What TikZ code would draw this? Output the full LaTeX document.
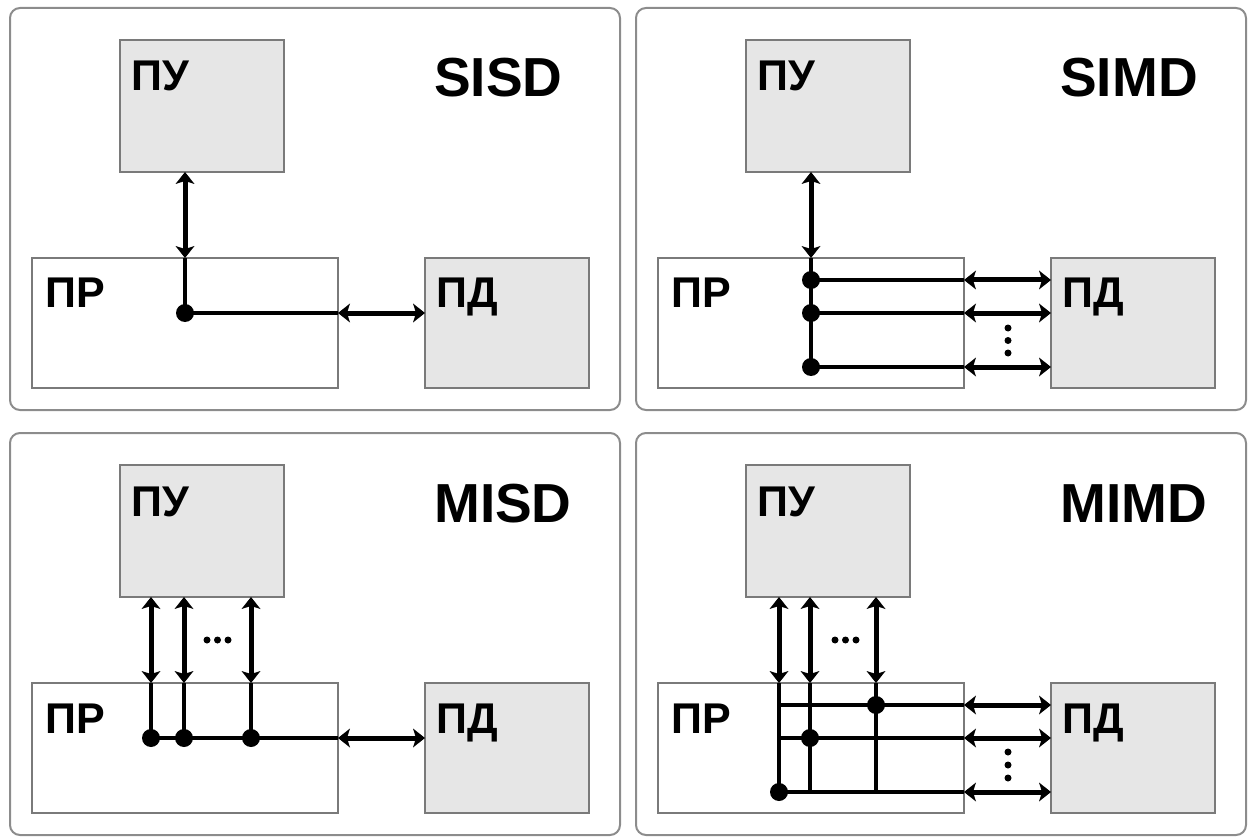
\documentclass[tikz,border=0pt]{standalone}
\usepackage{fontspec}
\setmainfont{Liberation Sans}
\usetikzlibrary{arrows.meta}
\definecolor{panelgray}{HTML}{8C8C8C}
\definecolor{boxgray}{HTML}{7A7A7A}
\definecolor{boxfill}{HTML}{E6E6E6}
\newcommand\flynnpanel[2]{%
  \draw[panel] (10,8) rectangle (620,410);
  \node[unit, minimum width=164pt, minimum height=132pt] (#1pu) at (120,40) {};
  \node[unit, minimum width=306pt, minimum height=130pt, fill=white] (#1pr) at (32,258) {};
  \node[unit, minimum width=164pt, minimum height=130pt] (#1pd) at (425,258) {};
  \node[lbl] (#1put) at (131,91) {ПУ};
  \node[lbl] (#1prt) at (45,308) {ПР};
  \node[lbl] (#1pdt) at (436,308) {ПД};
  \node[ttl] (#1ttl) at (434,97) {#2};
}
\begin{document}
\begin{tikzpicture}[x=1pt,y=-1pt,
  panel/.style={draw=panelgray, line width=2pt, rounded corners=10pt},
  unit/.style={draw=boxgray, line width=1.8pt, fill=boxfill, anchor=north west, inner sep=0pt, outer sep=0pt},
  lbl/.style={anchor=base west, inner sep=0pt, font=\bfseries\fontsize{43}{43}\selectfont},
  ttl/.style={anchor=base west, inner sep=0pt, font=\bfseries\fontsize{55}{55}\selectfont},
  tip/.tip={Stealth[length=12pt,width=19pt,inset=3pt,line width=0pt]},
  arr/.style={line width=3.5pt, tip-tip,
    preaction={draw, -, line width=5pt, shorten <=6pt, shorten >=6pt}},
  ln/.style={line width=3.5pt},
  dot/.style={circle, fill=black, inner sep=0pt, minimum size=18pt},
  sdot/.style={circle, fill=black, inner sep=0pt, minimum size=7pt}]
\useasboundingbox (0,0) rectangle (1251,837);
% ---------------- SISD
\begin{scope}
  \flynnpanel{a}{SISD}
  \coordinate (a1) at (185,313);
  \draw[arr] (a1 |- apu.south) -- (a1 |- apr.north);
  \draw[ln] (a1 |- apr.north) -- (a1);
  \draw[ln] (a1) -- (a1 -| apr.east);
  \draw[arr] (a1 -| apr.east) -- (a1 -| apd.west);
  \node[dot] (a1d) at (a1) {};
\end{scope}
% ---------------- SIMD
\begin{scope}[shift={(626,0)}]
  \flynnpanel{b}{SIMD}
  \coordinate (b1) at (185,280);
  \coordinate (b2) at (185,313);
  \coordinate (b3) at (185,367);
  \draw[arr] (b1 |- bpu.south) -- (b1 |- bpr.north);
  \draw[ln] (b1 |- bpr.north) -- (b3);
  \foreach \i in {1,2,3}{
    \draw[ln] (b\i) -- (b\i -| bpr.east);
    \draw[arr] (b\i -| bpr.east) -- (b\i -| bpd.west);
    \node[dot] (b\i d) at (b\i) {};
  }
  \node[sdot] (bv1) at (382,328) {};
  \node[sdot] (bv2) at (382,340.5) {};
  \node[sdot] (bv3) at (382,353) {};
\end{scope}
% ---------------- MISD
\begin{scope}[shift={(0,425)}]
  \flynnpanel{c}{MISD}
  \coordinate (c1) at (151,313);
  \coordinate (c2) at (184,313);
  \coordinate (c3) at (251,313);
  \foreach \i in {1,2,3}{
    \draw[arr] (c\i |- cpu.south) -- (c\i |- cpr.north);
    \draw[ln] (c\i |- cpr.north) -- (c\i);
  }
  \draw[ln] (c1) -- (c1 -| cpr.east);
  \draw[arr] (c1 -| cpr.east) -- (c1 -| cpd.west);
  \foreach \i in {1,2,3}{\node[dot] (c\i d) at (c\i) {};}
  \node[sdot] (ch1) at (207,215) {};
  \node[sdot] (ch2) at (217.5,215) {};
  \node[sdot] (ch3) at (228,215) {};
\end{scope}
% ---------------- MIMD
\begin{scope}[shift={(626,425)}]
  \flynnpanel{d}{MIMD}
  \coordinate (dv1) at (153,367);
  \coordinate (dv2) at (184,367);
  \coordinate (dv3) at (250,367);
  \coordinate (dr1) at (153,280);
  \coordinate (dr2) at (153,313);
  \coordinate (dr3) at (153,367);
  \foreach \i in {1,2,3}{
    \draw[arr] (dv\i |- dpu.south) -- (dv\i |- dpr.north);
    \draw[ln] (dv\i |- dpr.north) -- (dv\i);
    \draw[ln] (dr\i) -- (dr\i -| dpr.east);
    \draw[arr] (dr\i -| dpr.east) -- (dr\i -| dpd.west);
  }
  \node[dot] (dd1) at (250,280) {};
  \node[dot] (dd2) at (184,313) {};
  \node[dot] (dd3) at (153,367) {};
  \node[sdot] (dvd1) at (382,327) {};
  \node[sdot] (dvd2) at (382,340) {};
  \node[sdot] (dvd3) at (382,353) {};
  \node[sdot] (dh1) at (209,215) {};
  \node[sdot] (dh2) at (219.5,215) {};
  \node[sdot] (dh3) at (230,215) {};
\end{scope}
\end{tikzpicture}
\end{document}
